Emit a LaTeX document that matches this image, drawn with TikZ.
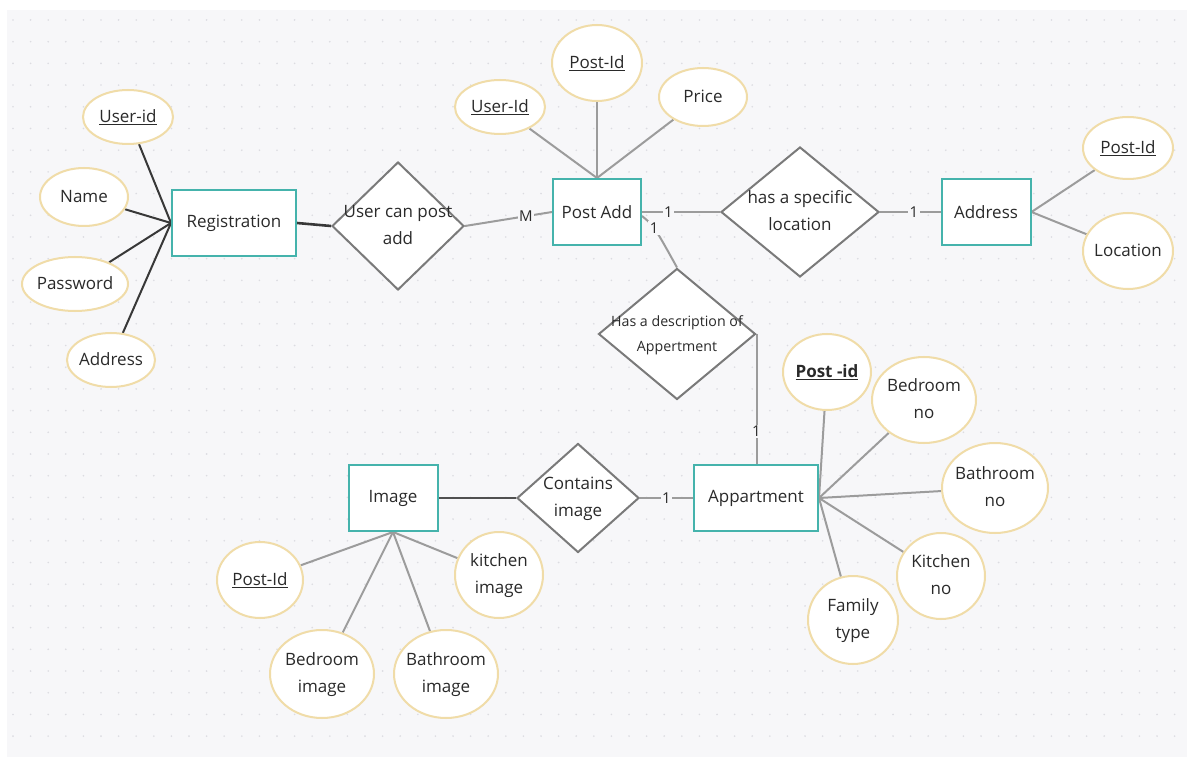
\documentclass[tikz,border=0pt]{standalone}
\usepackage{fontspec}
\setmainfont{Open Sans}
\usetikzlibrary{shapes.geometric}
\definecolor{bgc}{HTML}{F7F7F9}
\definecolor{dotc}{HTML}{DCDCE1}
\definecolor{ent}{HTML}{45B3AC}
\definecolor{attrc}{HTML}{F0DCA8}
\definecolor{relc}{HTML}{7A7A7A}
\definecolor{lnc}{HTML}{9C9C9C}
\definecolor{dkln}{HTML}{383838}
\definecolor{dkln2}{HTML}{505050}
\definecolor{txt}{HTML}{2A2A2A}
\newcommand\zt[1]{\makebox[0pt]{\begin{tabular}{@{}c@{}}#1\end{tabular}}}
\pgfdeclarelayer{back}
\pgfdeclarelayer{lines}
\pgfsetlayers{back,lines,main}
\begin{document}
\begin{tikzpicture}[x=1pt,y=-1pt,
  every node/.style={text=txt, font=\fontsize{17}{27}\selectfont},
  entity/.style={rectangle, draw=ent, line width=2pt, fill=white, minimum width=#1, minimum height=66, inner sep=0pt},
  attr/.style 2 args={ellipse, draw=attrc, line width=2pt, fill=white, minimum width=#1, minimum height=#2, inner sep=0pt},
  rel/.style 2 args={diamond, draw=relc, line width=2pt, fill=white, minimum width=#1, minimum height=#2, inner sep=0pt},
  gline/.style={draw=lnc, line width=2pt},
  dkline/.style={draw=dkln, line width=2pt},
  card/.style={fill=bgc, inner sep=1.5pt, font=\fontsize{15}{16}\selectfont}]
\useasboundingbox (0,0) rectangle (1187,762);
\begin{pgfonlayer}{back}
  \fill[white] (0,0) rectangle (1187,762);
  \fill[bgc] (7,10) rectangle (1187,757);
  \foreach \i in {0,...,66} {
    \foreach \j in {0,...,33} {
      \fill[dotc] ({13+\i*17.6},{20+\j*21.7}) circle (0.9);
    }
  }
\end{pgfonlayer}

% entities
\node[entity=124] (reg) at (234,223) {Registration};
\node[entity=88] (pa) at (597,212) {Post Add};
\node[entity=89] (addr) at (986,212) {Address};
\node[entity=89] (img) at (393,498) {Image};
\node[entity=124] (apt) at (756,498) {Appartment};

% relationships
\node[rel={132}{128}] (ucp) at (398,226) {\zt{User can post\\add}};
\node[rel={158}{130}] (hsl) at (800,212) {\zt{has a specific\\location}};
\node[rel={157}{131}, font=\fontsize{14.2}{25}\selectfont] (hd) at (677,334) {\zt{Has a description of\\Appertment}};
\node[rel={122}{109}] (ci) at (578,498) {\zt{Contains\\image}};

% registration attributes
\node[attr={90}{54}] (ua) at (128,117) {\zt{\underline{User-id}}};
\node[attr={88}{58}] (nm) at (84,197) {\zt{Name}};
\node[attr={106}{54}] (pw) at (75,284) {\zt{Password}};
\node[attr={88}{54}] (ad) at (111,360) {\zt{Address}};

% post add attributes
\node[attr={90}{54}] (pui) at (500,107) {\zt{\underline{User-Id}}};
\node[attr={90}{76}] (ppi) at (597,63) {\zt{\underline{Post-Id}}};
\node[attr={88}{58}] (ppr) at (703,97) {\zt{Price}};

% address attributes
\node[attr={90}{62}] (api) at (1128,148) {\zt{\underline{Post-Id}}};
\node[attr={90}{76}] (alo) at (1128,251) {\zt{Location}};

% appartment attributes
\node[attr={88}{76}] (tpi) at (827,372) {\zt{\textbf{\underline{Post -id}}}};
\node[attr={104}{86}] (tbe) at (924,400) {\zt{Bedroom\\no}};
\node[attr={106}{90}] (tba) at (995,488) {\zt{Bathroom\\no}};
\node[attr={88}{86}] (tki) at (941,576) {\zt{Kitchen\\no}};
\node[attr={90}{88}] (tfa) at (853,620) {\zt{Family\\type}};

% image attributes
\node[attr={86}{76}] (ipi) at (260,580) {\zt{\underline{Post-Id}}};
\node[attr={104}{88}] (ibe) at (322,674) {\zt{Bedroom\\image}};
\node[attr={104}{88}] (iba) at (446,674) {\zt{Bathroom\\image}};
\node[attr={88}{86}] (iki) at (499,575) {\zt{kitchen\\image}};

\begin{pgfonlayer}{lines}
  \foreach \a in {ua,nm,pw,ad} \draw[dkline] (\a) -- (reg.west);
  \draw[dkline, line width=2.6pt] (reg.east) -- (ucp.west);
  \draw[gline] (ucp.east) -- node[card, pos=0.7] {M} (pa.west);
  \foreach \a in {pui,ppi,ppr} \draw[gline] (\a) -- (pa.north);
  \draw[gline] (pa.east) -- node[card, pos=0.34] {1} (hsl.west);
  \draw[gline] (hsl.east) -- node[card, pos=0.56] {1} (addr.west);
  \foreach \a in {api,alo} \draw[gline] (\a) -- (addr.east);
  \draw[gline] ([yshift=-4pt]pa.east) .. controls ([xshift=12pt,yshift=-14pt]pa.east) .. node[card, pos=0.45] {1} (hd.north);
  \draw[gline] (hd.east) -- node[card, pos=0.75] {1} (hd.east |- apt.north);
  \draw[gline] (ci.east) -- node[card, pos=0.5] {1} (apt.west);
  \draw[draw=dkln2, line width=2.6pt] (img.east) -- (ci.west);
  \foreach \a in {ipi,ibe,iba,iki} \draw[gline] (\a) -- (img.south);
  \foreach \a in {tpi,tbe,tba,tki,tfa} \draw[gline] (\a) -- (apt.east);
\end{pgfonlayer}
\end{tikzpicture}
\end{document}
